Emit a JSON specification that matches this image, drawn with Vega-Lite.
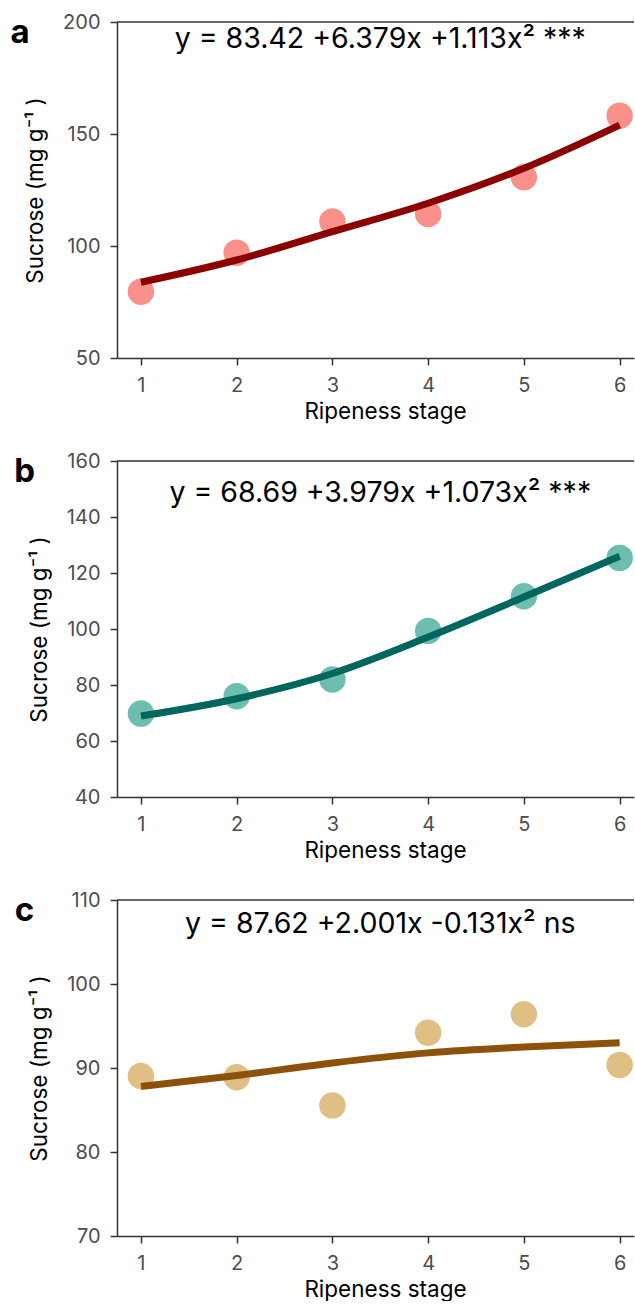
{
  "$schema": "https://vega.github.io/schema/vega-lite/v6.json",
  "background": "white",
  "padding": {"left": 10, "top": 12, "right": 0, "bottom": 0},
  "spacing": 28,
  "config": {
    "font": "Inter",
    "view": {"stroke": null},
    "axis": {
      "grid": false,
      "domainColor": "#333333",
      "domainWidth": 1.5,
      "tickColor": "#333333",
      "tickWidth": 1.5,
      "tickSize": 7,
      "labelColor": "#4D4D4D",
      "labelFontSize": 20,
      "labelFont": "Inter",
      "labelPadding": 7,
      "titleFont": "Inter",
      "titleFontSize": 22.5,
      "titleFontWeight": "normal",
      "titleColor": "#000000"
    },
    "axisX": {"labelPadding": 10, "titlePadding": 5},
    "axisY": {"labelPadding": 10, "titlePadding": 15},
    "title": {"font": "Inter", "fontSize": 33, "fontWeight": "bold", "color": "#000000"}
  },
  "datasets": {
    "points": [
      {"panel": "a", "stage": 1, "sucrose": 79.6},
      {"panel": "a", "stage": 2, "sucrose": 97.0},
      {"panel": "a", "stage": 3, "sucrose": 110.9},
      {"panel": "a", "stage": 4, "sucrose": 114.3},
      {"panel": "a", "stage": 5, "sucrose": 130.7},
      {"panel": "a", "stage": 6, "sucrose": 158.2},
      {"panel": "b", "stage": 1, "sucrose": 69.8},
      {"panel": "b", "stage": 2, "sucrose": 76.0},
      {"panel": "b", "stage": 3, "sucrose": 82.0},
      {"panel": "b", "stage": 4, "sucrose": 99.3},
      {"panel": "b", "stage": 5, "sucrose": 111.7},
      {"panel": "b", "stage": 6, "sucrose": 125.4},
      {"panel": "c", "stage": 1, "sucrose": 89.05},
      {"panel": "c", "stage": 2, "sucrose": 88.9},
      {"panel": "c", "stage": 3, "sucrose": 85.55},
      {"panel": "c", "stage": 4, "sucrose": 94.2},
      {"panel": "c", "stage": 5, "sucrose": 96.4},
      {"panel": "c", "stage": 6, "sucrose": 90.36}
    ],
    "fit": [
      {"panel": "a", "stage": 1, "sucrose": 83.8},
      {"panel": "a", "stage": 2, "sucrose": 93.75},
      {"panel": "a", "stage": 3, "sucrose": 106.4},
      {"panel": "a", "stage": 4, "sucrose": 119.1},
      {"panel": "a", "stage": 5, "sucrose": 134.7},
      {"panel": "a", "stage": 6, "sucrose": 154.0},
      {"panel": "b", "stage": 1, "sucrose": 68.9},
      {"panel": "b", "stage": 2, "sucrose": 75.1},
      {"panel": "b", "stage": 3, "sucrose": 84.1},
      {"panel": "b", "stage": 4, "sucrose": 97.1},
      {"panel": "b", "stage": 5, "sucrose": 111.4},
      {"panel": "b", "stage": 6, "sucrose": 126.0},
      {"panel": "c", "stage": 1, "sucrose": 87.8},
      {"panel": "c", "stage": 2, "sucrose": 89.1},
      {"panel": "c", "stage": 3, "sucrose": 90.6},
      {"panel": "c", "stage": 4, "sucrose": 91.8},
      {"panel": "c", "stage": 5, "sucrose": 92.5},
      {"panel": "c", "stage": 6, "sucrose": 93.0}
    ],
    "labels": [
      {"panel": "a", "stage": 3.5, "sucrose": 192.4, "text": "y = 83.42 +6.379x +1.113x² ***"},
      {"panel": "b", "stage": 3.5, "sucrose": 148.5, "text": "y = 68.69 +3.979x +1.073x² ***"},
      {"panel": "c", "stage": 3.5, "sucrose": 107.1, "text": "y = 87.62 +2.001x -0.131x² ns"}
    ]
  },
  "vconcat": [
    {
      "width": 517, "height": 336,
      "title": {"text": "a", "anchor": "start", "frame": "bounds", "baseline": "top", "dx": -14, "dy": 42},
      "layer": [
        {"data": {"values": [{}]}, "mark": {"type": "rule", "color": "#333333", "strokeWidth": 1.5}, "encoding": {"y": {"datum": 200, "type": "quantitative", "scale": {"domain": [50, 200], "nice": false, "zero": false}}}},
        {"data": {"name": "points"}, "transform": [{"filter": "datum.panel === 'a'"}],
         "mark": {"type": "circle", "size": 700, "color": "#F8766D", "opacity": 0.8},
         "encoding": {
           "x": {"field": "stage", "type": "quantitative", "scale": {"domain": [0.75, 6.15], "nice": false, "zero": false}, "axis": {"values": [1, 2, 3, 4, 5, 6], "format": "d", "title": "Ripeness stage", "titleX": 268}},
           "y": {"field": "sucrose", "type": "quantitative", "scale": {"domain": [50, 200], "nice": false, "zero": false}, "axis": {"values": [50, 100, 150, 200], "title": "Sucrose (mg g⁻¹ )"}}
         }},
        {"data": {"name": "fit"}, "transform": [{"filter": "datum.panel === 'a'"}],
         "mark": {"type": "line", "color": "#8B0000", "strokeWidth": 7, "interpolate": "monotone", "strokeCap": "butt"},
         "encoding": {"x": {"field": "stage", "type": "quantitative"}, "y": {"field": "sucrose", "type": "quantitative"}}},
        {"data": {"name": "labels"}, "transform": [{"filter": "datum.panel === 'a'"}],
         "mark": {"type": "text", "fontSize": 28.5, "color": "#000000", "font": "Inter"},
         "encoding": {"x": {"field": "stage", "type": "quantitative"}, "y": {"field": "sucrose", "type": "quantitative"}, "text": {"field": "text"}}}
      ]
    },
    {
      "width": 517, "height": 336,
      "title": {"text": "b", "anchor": "start", "frame": "bounds", "baseline": "top", "dx": -14, "dy": 42},
      "layer": [
        {"data": {"values": [{}]}, "mark": {"type": "rule", "color": "#333333", "strokeWidth": 1.5}, "encoding": {"y": {"datum": 160, "type": "quantitative", "scale": {"domain": [40, 160], "nice": false, "zero": false}}}},
        {"data": {"name": "points"}, "transform": [{"filter": "datum.panel === 'b'"}],
         "mark": {"type": "circle", "size": 700, "color": "#4AAE9B", "opacity": 0.8},
         "encoding": {
           "x": {"field": "stage", "type": "quantitative", "scale": {"domain": [0.75, 6.15], "nice": false, "zero": false}, "axis": {"values": [1, 2, 3, 4, 5, 6], "format": "d", "title": "Ripeness stage", "titleX": 268}},
           "y": {"field": "sucrose", "type": "quantitative", "scale": {"domain": [40, 160], "nice": false, "zero": false}, "axis": {"values": [40, 60, 80, 100, 120, 140, 160], "title": "Sucrose (mg g⁻¹ )"}}
         }},
        {"data": {"name": "fit"}, "transform": [{"filter": "datum.panel === 'b'"}],
         "mark": {"type": "line", "color": "#01665E", "strokeWidth": 7, "interpolate": "monotone", "strokeCap": "butt"},
         "encoding": {"x": {"field": "stage", "type": "quantitative"}, "y": {"field": "sucrose", "type": "quantitative"}}},
        {"data": {"name": "labels"}, "transform": [{"filter": "datum.panel === 'b'"}],
         "mark": {"type": "text", "fontSize": 28.5, "color": "#000000", "font": "Inter"},
         "encoding": {"x": {"field": "stage", "type": "quantitative"}, "y": {"field": "sucrose", "type": "quantitative"}, "text": {"field": "text"}}}
      ]
    },
    {
      "width": 517, "height": 336,
      "title": {"text": "c", "anchor": "start", "frame": "bounds", "baseline": "top", "dx": -14, "dy": 42},
      "layer": [
        {"data": {"values": [{}]}, "mark": {"type": "rule", "color": "#333333", "strokeWidth": 1.5}, "encoding": {"y": {"datum": 110, "type": "quantitative", "scale": {"domain": [70, 110], "nice": false, "zero": false}}}},
        {"data": {"name": "points"}, "transform": [{"filter": "datum.panel === 'c'"}],
         "mark": {"type": "circle", "size": 700, "color": "#D9B46E", "opacity": 0.85},
         "encoding": {
           "x": {"field": "stage", "type": "quantitative", "scale": {"domain": [0.75, 6.15], "nice": false, "zero": false}, "axis": {"values": [1, 2, 3, 4, 5, 6], "format": "d", "title": "Ripeness stage", "titleX": 268}},
           "y": {"field": "sucrose", "type": "quantitative", "scale": {"domain": [70, 110], "nice": false, "zero": false}, "axis": {"values": [70, 80, 90, 100, 110], "title": "Sucrose (mg g⁻¹ )"}}
         }},
        {"data": {"name": "fit"}, "transform": [{"filter": "datum.panel === 'c'"}],
         "mark": {"type": "line", "color": "#8C510A", "strokeWidth": 7, "interpolate": "monotone", "strokeCap": "butt"},
         "encoding": {"x": {"field": "stage", "type": "quantitative"}, "y": {"field": "sucrose", "type": "quantitative"}}},
        {"data": {"name": "labels"}, "transform": [{"filter": "datum.panel === 'c'"}],
         "mark": {"type": "text", "fontSize": 28.5, "color": "#000000", "font": "Inter"},
         "encoding": {"x": {"field": "stage", "type": "quantitative"}, "y": {"field": "sucrose", "type": "quantitative"}, "text": {"field": "text"}}}
      ]
    }
  ]
}
